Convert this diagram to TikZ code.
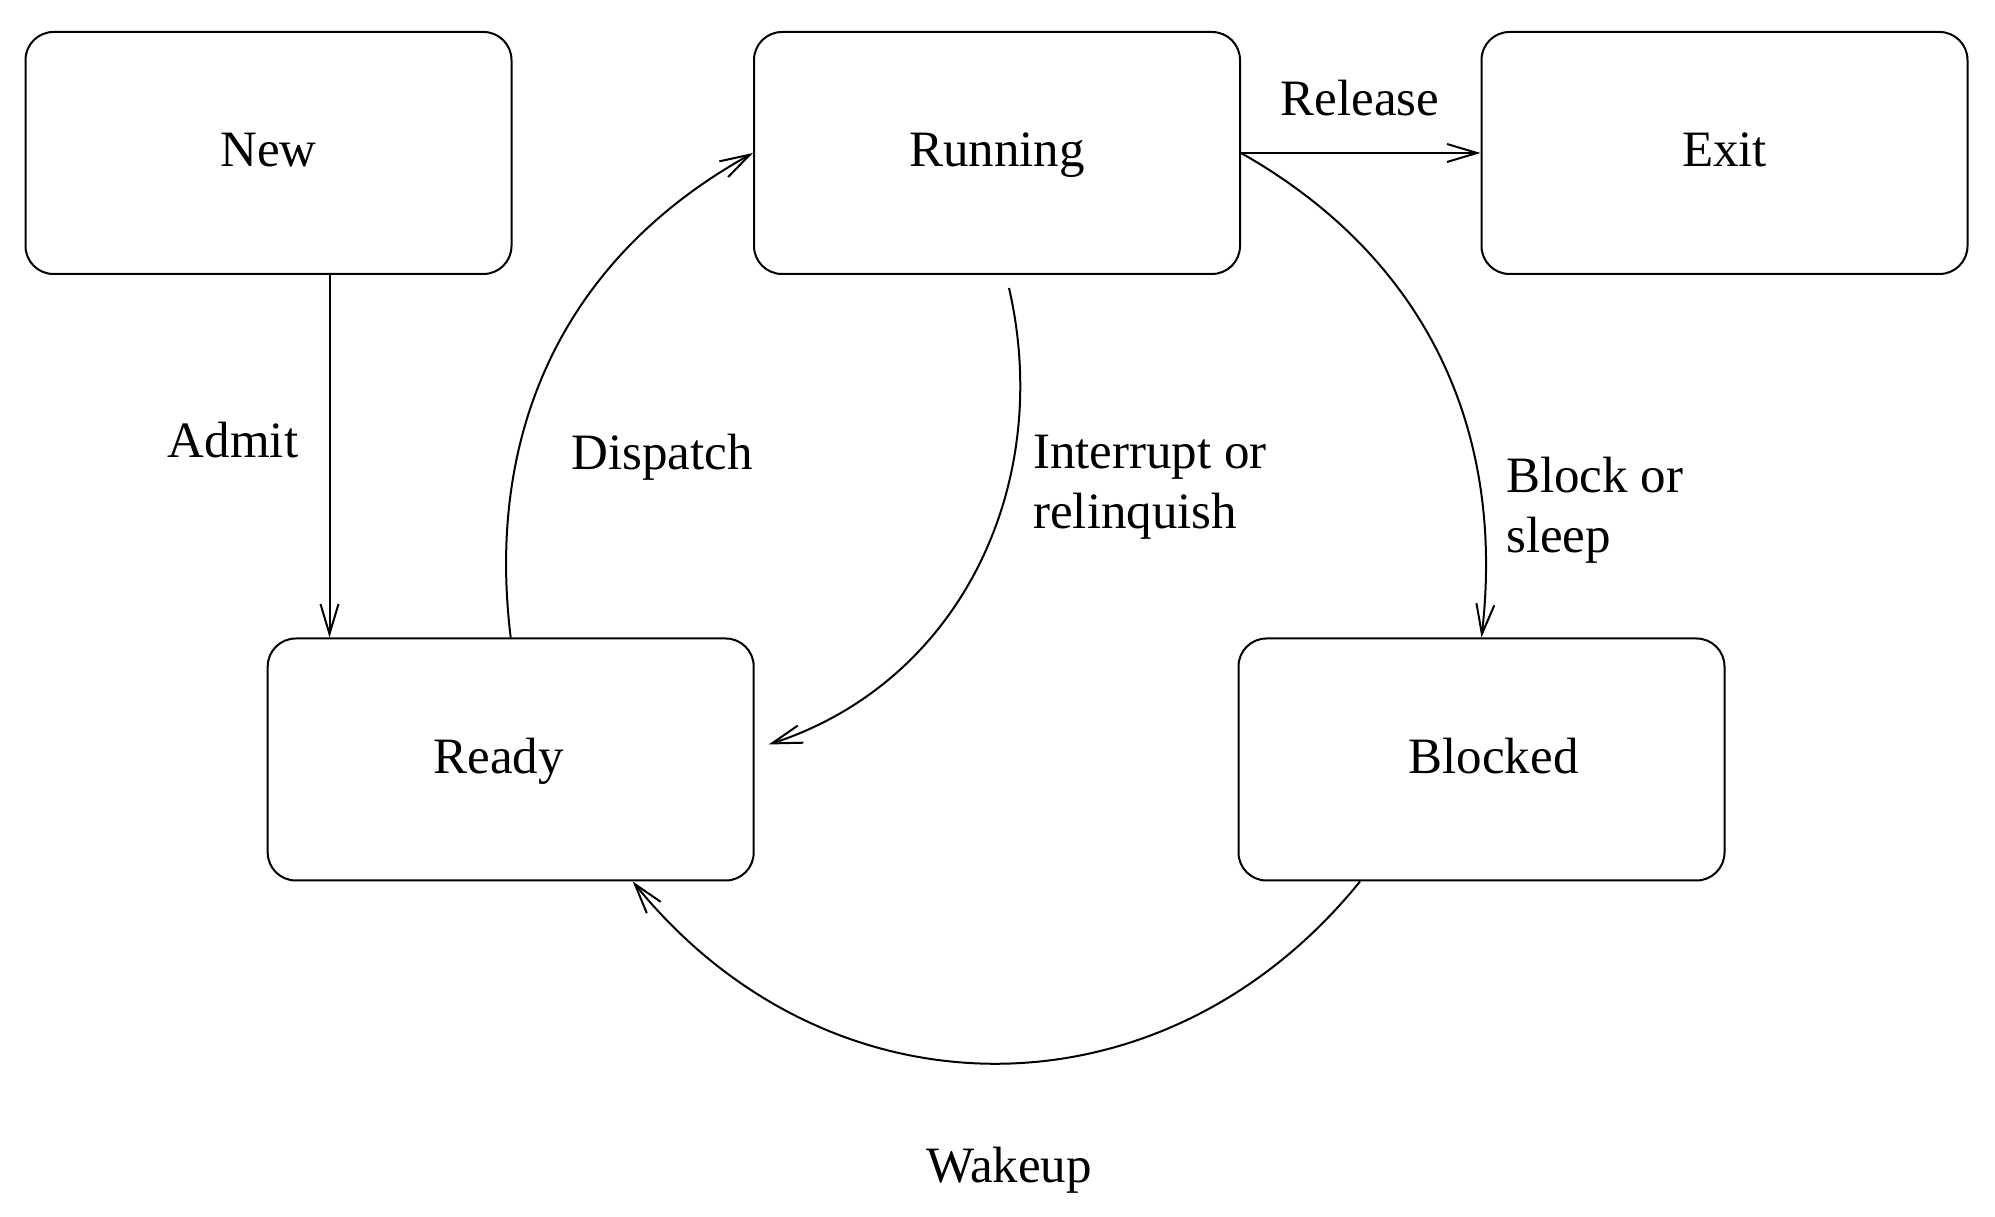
\documentclass[tikz,border=0pt]{standalone}
\usepackage{fontspec}
\setmainfont{Liberation Serif}
\usetikzlibrary{arrows.meta}
\begin{document}
\begin{tikzpicture}[x=1pt,y=1pt,
  every node/.style={font=\fontsize{51}{60}\selectfont},
  statebox/.style={draw, rectangle, rounded corners=28pt, line width=2pt,
    minimum width=486pt, minimum height=242pt, inner sep=0pt,
    text height=34pt, text depth=6pt},
  lbl/.style={inner sep=0pt},
  conn/.style={line width=2pt, -{Straight Barb[length=30pt,width=18pt]}}
]
\useasboundingbox (0,0) rectangle (1995,1217);
\fill[white] (0,0) rectangle (1995,1217);

\node[statebox] (new) at (268.5,1064) {New};
\node[statebox] (running) at (997,1064) {Running};
\node[statebox] (exit) at (1724.5,1064) {Exit};
\node[statebox] (ready) at (510.7,457.5) {\kern-24pt Ready};
\node[statebox] (blocked) at (1481.5,457.5) {Blocked\kern-24pt};

\draw[conn] ([xshift=61pt]new.south) -- ([xshift=61pt]new.south |- ready.north);
\draw[conn] (running.east) -- (exit.west);
\draw[conn] (ready.north) to[out=97,in=209] (running.west);
\draw[conn] ([xshift=12pt,yshift=-13pt]running.south) to[out=-77,in=18] ([xshift=14pt,yshift=15pt]ready.east);
\draw[conn] (running.east) to[out=-29.5,in=83.4] (blocked.north);
\draw[conn] ([xshift=-121.5pt]blocked.south) to[out=-129,in=-51,looseness=1.1] ([xshift=122pt]ready.south);

\node[lbl, anchor=base] (admit) at (233,759) {Admit};
\node[lbl, anchor=base] (dispatch) at (662,747.5) {Dispatch};
\node[lbl, anchor=base west, align=left] (interrupt) at (1033,688) {Interrupt or\\relinquish};
\node[lbl, anchor=base west, align=left] (blocksleep) at (1506,664) {Block or\\sleep};
\node[lbl, anchor=base] (release) at (1360,1101) {Release};
\node[lbl, anchor=base] (wakeup) at (1009,34) {Wakeup};
\end{tikzpicture}
\end{document}
